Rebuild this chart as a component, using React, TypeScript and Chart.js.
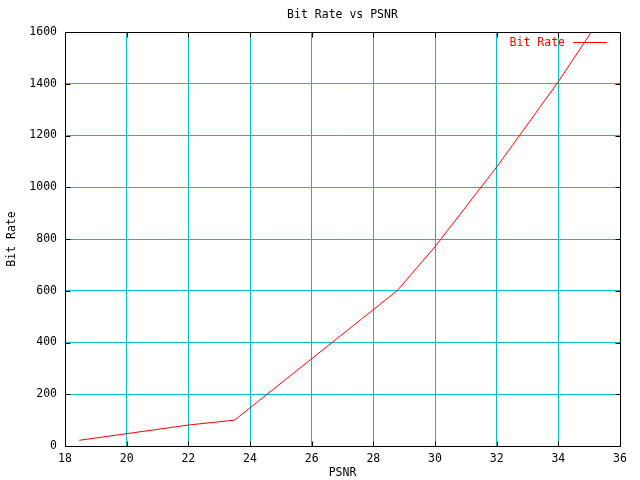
import React, { useEffect, useRef } from "react";
import { Chart, registerables } from "chart.js";

Chart.register(...registerables);

const psnr = [18.46, 22.0, 23.5, 28.77, 30.0, 32.05, 34.0, 35.07];
const bitRate = [22, 81, 100, 600, 770, 1086, 1408, 1600];
const xTicks = [18, 20, 22, 24, 26, 28, 30, 32, 34, 36];
const yTicks = [0, 200, 400, 600, 800, 1000, 1200, 1400, 1600];
const titleText = "Bit Rate vs PSNR";
const xLabel = "PSNR";
const yLabel = "Bit Rate";
const seriesLabel = "Bit Rate";

const FONT = "'DejaVu Sans Mono', 'Liberation Mono', monospace";
const FS = 11.5;

const decor = {
  id: "gnuplotDecor",
  afterDatasetsDraw(chart: any) {
    const { ctx, chartArea } = chart;
    const { left, right, top, bottom } = chartArea;
    const xs = chart.scales.x;
    const ys = chart.scales.y;
    ctx.save();
    ctx.strokeStyle = "#000";
    ctx.lineWidth = 1;
    const L = Math.round(left) + 0.5;
    const R = Math.round(right) + 0.5;
    const T = Math.round(top) + 0.5;
    const B = Math.round(bottom) + 0.5;
    const tl = 5;
    ctx.beginPath();
    for (const v of xTicks) {
      const px = Math.round(xs.getPixelForValue(v)) + 0.5;
      ctx.moveTo(px, B);
      ctx.lineTo(px, B - tl);
      ctx.moveTo(px, T);
      ctx.lineTo(px, T + tl);
    }
    for (const v of yTicks) {
      const py = Math.round(ys.getPixelForValue(v)) + 0.5;
      ctx.moveTo(L, py);
      ctx.lineTo(L + tl, py);
      ctx.moveTo(R, py);
      ctx.lineTo(R - tl, py);
    }
    ctx.stroke();
    ctx.strokeRect(L, T, R - L, B - T);

    ctx.font = `${FS}px ${FONT}`;
    ctx.fillStyle = "#000";
    ctx.textAlign = "center";
    ctx.textBaseline = "middle";
    const cx = (left + right) / 2;
    ctx.fillText(titleText, cx, 15);
    ctx.fillText(xLabel, cx, 473);
    ctx.save();
    ctx.translate(12, (top + bottom) / 2);
    ctx.rotate(-Math.PI / 2);
    ctx.fillText(yLabel, 0, 0);
    ctx.restore();

    // legend
    ctx.fillStyle = "#ff0000";
    ctx.textAlign = "right";
    ctx.fillText(seriesLabel, 565, 43);
    ctx.strokeStyle = "#ff0000";
    ctx.beginPath();
    ctx.moveTo(573, 42.5);
    ctx.lineTo(607, 42.5);
    ctx.stroke();
    ctx.restore();
  },
};

export default function App() {
  const ref = useRef<HTMLCanvasElement>(null);
  useEffect(() => {
    const canvas = ref.current!;
    const chart = new Chart(canvas, {
      type: "line",
      data: {
        datasets: [
          {
            label: seriesLabel,
            data: psnr.map((x, i) => ({ x, y: bitRate[i] })),
            borderColor: "#ff0000",
            borderWidth: 1,
            pointRadius: 0,
            tension: 0,
            fill: false,
          },
        ],
      },
      options: {
        responsive: false,
        animation: false,
        devicePixelRatio: 1,
        layout: { padding: { top: 32, right: 20, left: 0, bottom: 0 } },
        plugins: {
          legend: { display: false },
          title: { display: false },
          tooltip: { enabled: false },
        },
        scales: {
          x: {
            type: "linear",
            min: 18,
            max: 36,
            afterFit: (s: any) => {
              s.height = 34;
            },
            afterBuildTicks: (s: any) => {
              s.ticks = xTicks.map((v) => ({ value: v }));
            },
            grid: { color: "#00c0c0", drawTicks: false, lineWidth: 1 },
            border: { display: false },
            ticks: {
              padding: 6,
              color: "#000",
              font: { family: FONT, size: FS },
              maxRotation: 0,
              callback: (v: any) => String(v),
            },
          },
          y: {
            type: "linear",
            min: 0,
            max: 1600,
            afterFit: (s: any) => {
              s.width = 65;
            },
            afterBuildTicks: (s: any) => {
              s.ticks = yTicks.map((v) => ({ value: v }));
            },
            grid: { color: "#00c0c0", drawTicks: false, lineWidth: 1 },
            border: { display: false },
            ticks: {
              padding: 8,
              color: "#000",
              font: { family: FONT, size: FS },
              callback: (v: any) => String(v),
            },
          },
        },
      },
      plugins: [decor],
    });
    return () => chart.destroy();
  }, []);
  return (
    <div style={{ position: "fixed", left: 0, top: 0, width: 640, height: 480, background: "#fff" }}>
      <canvas ref={ref} width={640} height={480} style={{ display: "block" }} />
    </div>
  );
}
